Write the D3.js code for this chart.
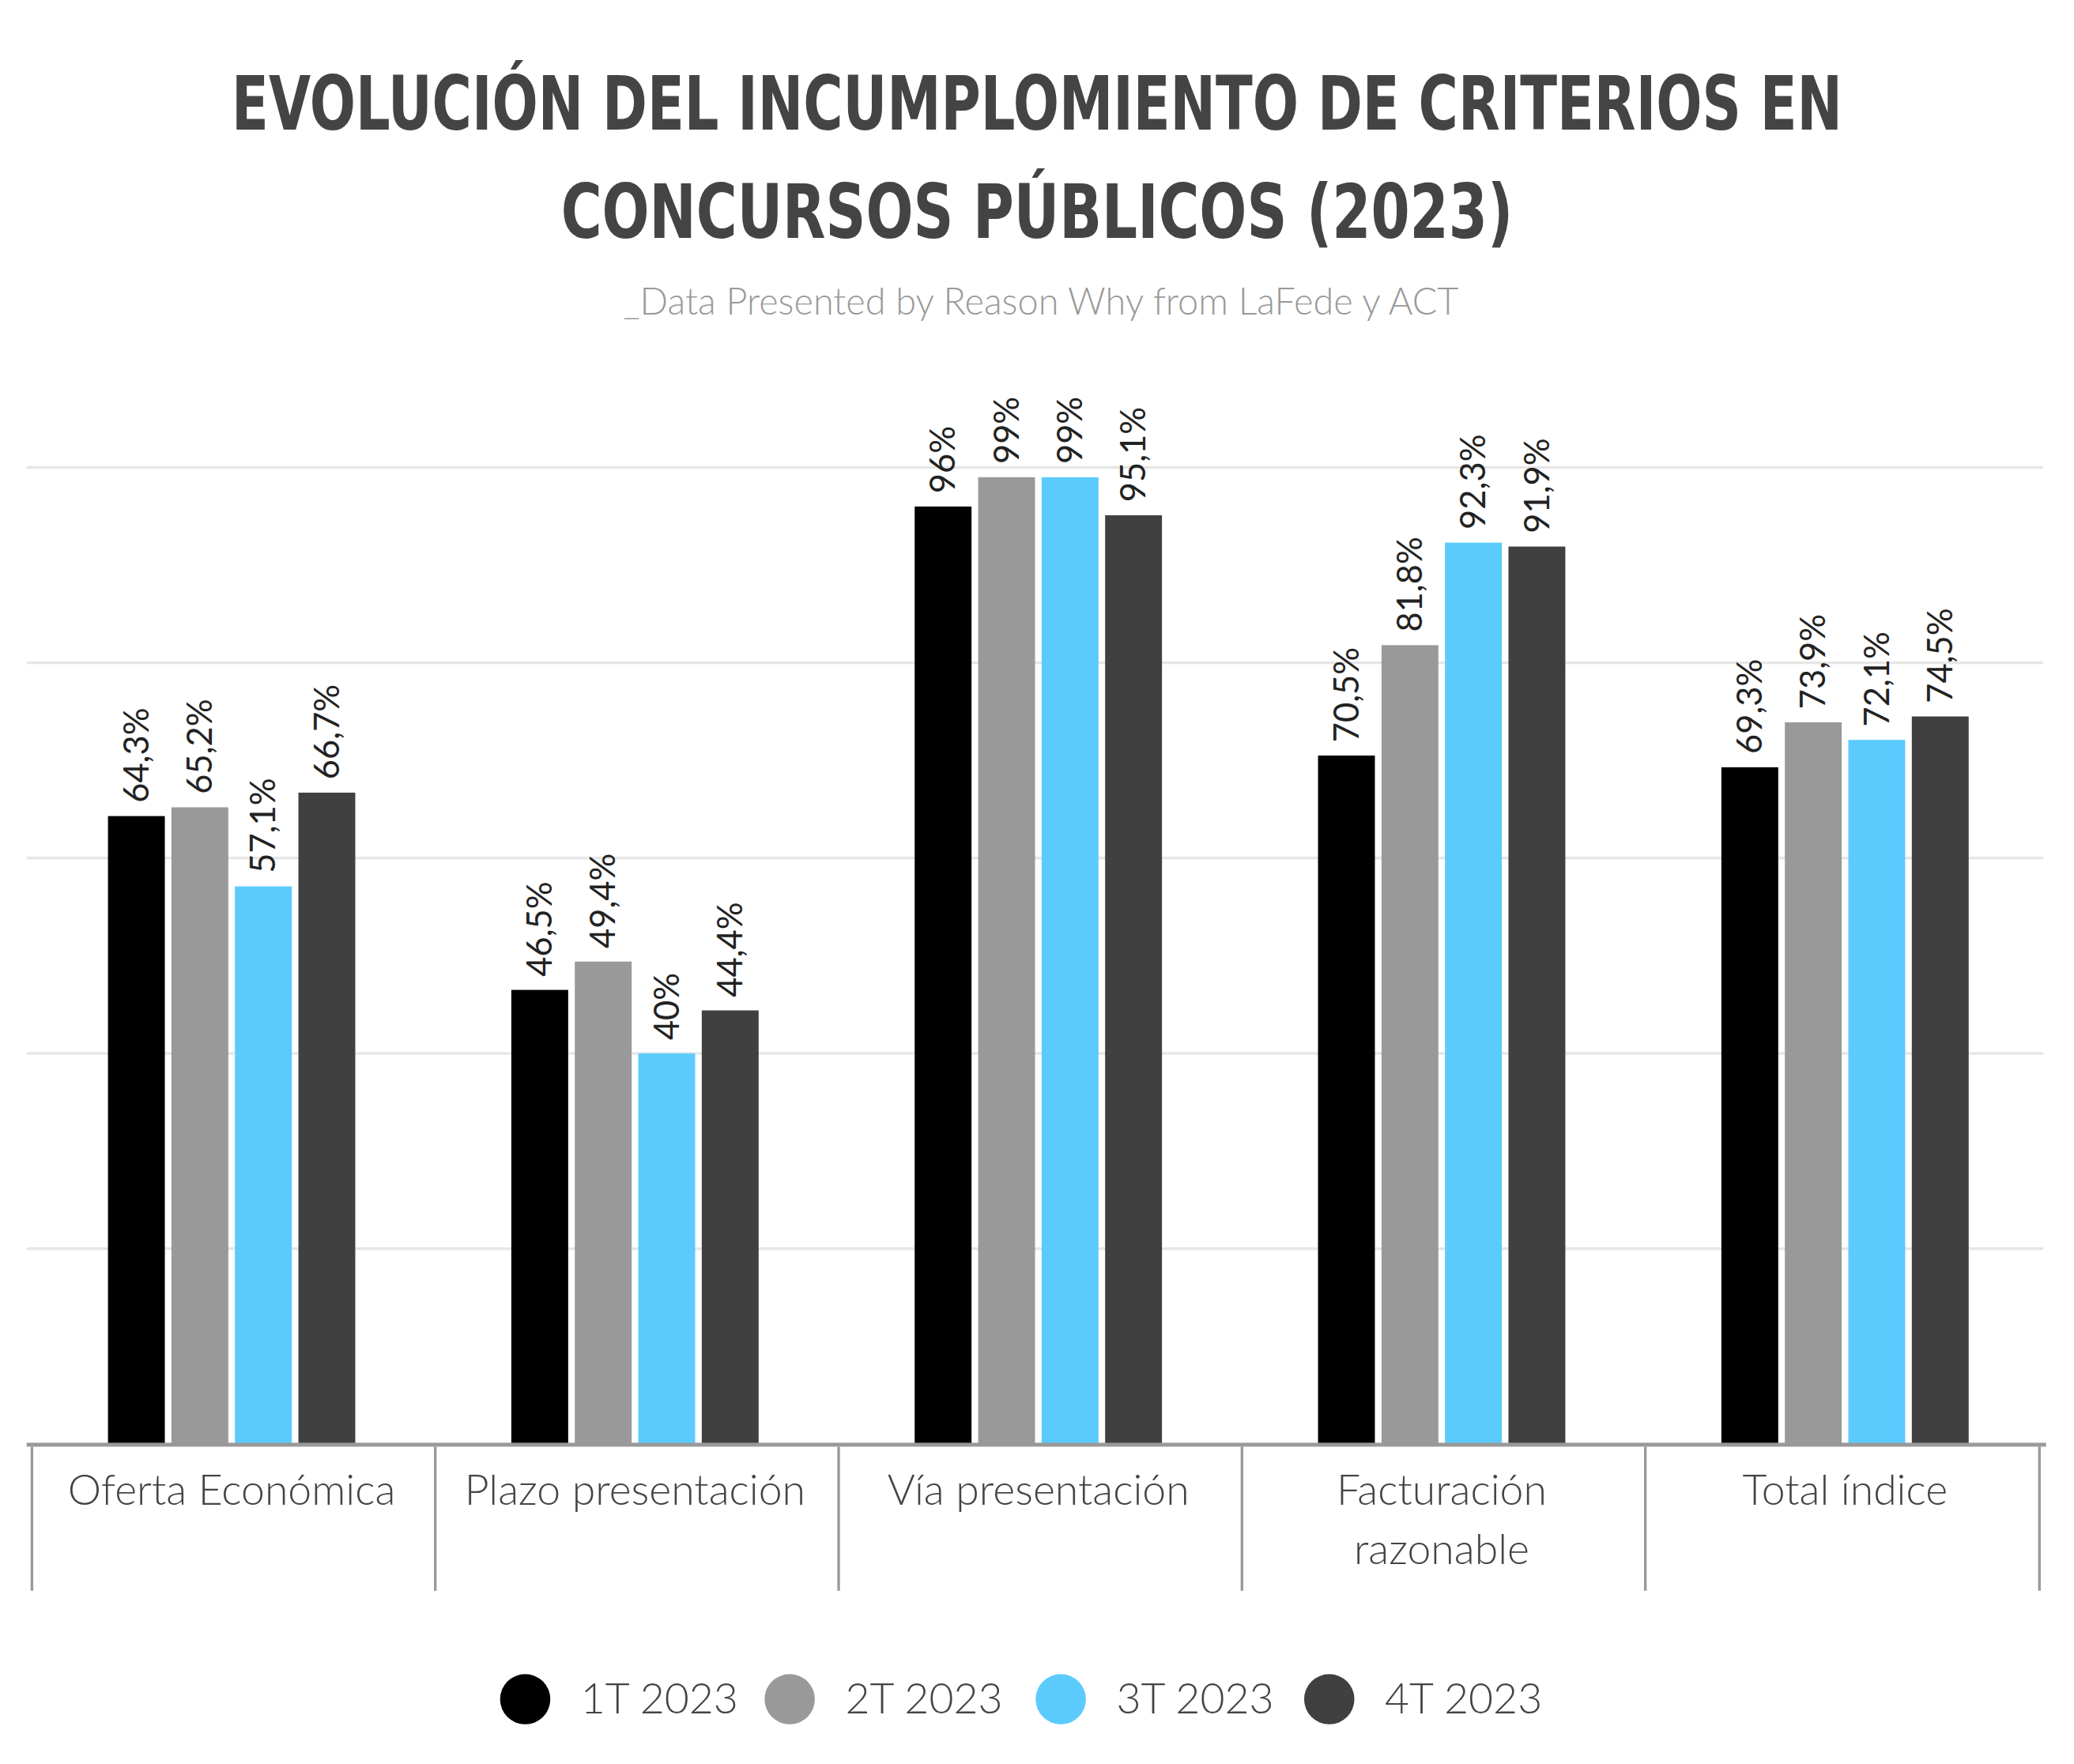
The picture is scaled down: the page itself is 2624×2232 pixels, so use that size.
<!DOCTYPE html><html><head><meta charset="utf-8"><script src="https://cdn.jsdelivr.net/npm/d3@7"></script>
<style>body{margin:0;background:#fff}</style></head><body><svg id="c" width="2624" height="2232" viewBox="0 0 1568 1334"></svg>
<script>
const categories=[["Oferta Económica"],["Plazo presentación"],["Vía presentación"],["Facturación","razonable"],["Total índice"]];
const series=["1T 2023","2T 2023","3T 2023","4T 2023"];
const colors=["#000000","#999999","#5bcbfd","#404040"];
const values=[[64.3,65.2,57.1,66.7],[46.5,49.4,40,44.4],[96,99,99,95.1],[70.5,81.8,92.3,91.9],[69.3,73.9,72.1,74.5]];
const gridTicks=[20,40,60,80,100];
const svg=d3.select("#c");
const F="Lato, 'Open Sans', sans-serif";
const TF="'DejaVu Sans Condensed','DejaVu Sans',sans-serif";
svg.append("text").attr("x",784).attr("y",98).attr("text-anchor","middle").attr("font-family",TF).attr("font-stretch","condensed").attr("font-weight","bold").attr("font-size",56).attr("fill","#444").attr("textLength",1218).attr("lengthAdjust","spacingAndGlyphs").text("EVOLUCIÓN DEL INCUMPLOMIENTO DE CRITERIOS EN");
svg.append("text").attr("x",784).attr("y",180).attr("text-anchor","middle").attr("font-family",TF).attr("font-stretch","condensed").attr("font-weight","bold").attr("font-size",56).attr("fill","#444").attr("textLength",720).attr("lengthAdjust","spacingAndGlyphs").text("CONCURSOS PÚBLICOS (2023)");
svg.append("text").attr("x",787).attr("y",238).attr("text-anchor","middle").attr("font-family",F).attr("font-weight",300).attr("font-size",28).attr("fill","#999").text("_Data Presented by Reason Why from LaFede y ACT");
const x0=d3.scaleBand().domain(d3.range(5)).range([20,1545]);
const y=d3.scaleLinear().domain([0,100]).range([1092,353.5]);
svg.selectAll(".g").data(gridTicks).join("line").attr("x1",20).attr("x2",1545).attr("y1",d=>y(d)).attr("y2",d=>y(d)).attr("stroke","#e6e6e6").attr("stroke-width",2);
const bw=43,step=48;
values.forEach((vals,i)=>{
  const c=x0(i)+x0.bandwidth()/2+2.5;
  vals.forEach((v,j)=>{
    const bx=c-2*step+j*step+2.5;
    svg.append("rect").attr("x",bx).attr("y",y(v)).attr("width",bw).attr("height",y(0)-y(v)).attr("fill",colors[j]);
    svg.append("text").attr("transform",`translate(${bx+bw/2+9},${y(v)-10}) rotate(-90)`).attr("font-family",F).attr("font-size",26).attr("fill","#222").text(String(v).replace(".",",")+"%");
  });
  categories[i].forEach((t,k)=>svg.append("text").attr("x",c).attr("y",1138+k*45).attr("text-anchor","middle").attr("font-family",F).attr("font-weight",300).attr("font-size",32).attr("fill","#444").text(t));
});
svg.append("line").attr("x1",20).attr("x2",1547).attr("y1",1092.5).attr("y2",1092.5).attr("stroke","#999").attr("stroke-width",3);
d3.range(6).forEach(i=>{const xx=i<5?x0(i)+4:1542;svg.append("line").attr("x1",xx).attr("x2",xx).attr("y1",1094).attr("y2",1203).attr("stroke","#999").attr("stroke-width",2);});
const lx=[397,597,802,1005];
series.forEach((s,j)=>{svg.append("circle").attr("cx",lx[j]).attr("cy",1285).attr("r",19).attr("fill",colors[j]);
svg.append("text").attr("x",lx[j]+42).attr("y",1296).attr("font-family",F).attr("font-weight",300).attr("font-size",32).attr("fill","#444").text(s);});
</script></body></html>
